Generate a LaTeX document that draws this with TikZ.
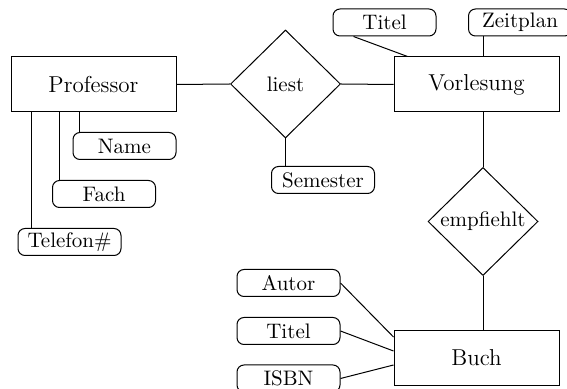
\documentclass[tikz,border=0pt]{standalone}
\usetikzlibrary{shapes.geometric,calc}
\begin{document}
\begin{tikzpicture}[x=0.5pt,y=-0.5pt, line width=0.5pt,
  entity/.style={draw, minimum width=82.5pt, minimum height=27.5pt, inner sep=0pt, font=\fontsize{11.5}{13}\selectfont},
  attr/.style={draw, rounded corners=3.5pt, minimum width=51.5pt, minimum height=13.5pt, inner sep=0pt},
  rel/.style={draw, diamond, aspect=1, minimum width=55pt, minimum height=54pt, inner sep=0pt},
  every node/.style={font=\fontsize{10.5}{12}\selectfont}]
\useasboundingbox (0,0) rectangle (567,389);
\clip (0,0) rectangle (567,389);
\node[entity] (prof) at (93.5,84.5) {Professor};
\node[rel] (liest) at (285.5,84) {liest};
\node[entity] (vorl) at (476.5,84.5) {Vorlesung};
\node[attr] (titelA) at (384.5,22.5) {Titel};
\node[attr] (zeit) at (520,22.5) {Zeitplan};
\node[attr] (sem) at (323,180) {Semester};
\node[attr] (name) at (124.5,146) {Name};
\node[attr] (fach) at (104,194) {Fach};
\node[attr] (tel) at (69.5,242) {Telefon\#};
\node[rel] (empf) at (483,221.5) {empfiehlt};
\node[entity] (buch) at (476.5,358) {Buch};
\node[attr] (autor) at (288.5,283) {Autor};
\node[attr] (titelB) at (288.5,331) {Titel};
\node[attr] (isbn) at (288.5,378.5) {ISBN};
% relationships
\draw (prof.east) -- (liest.west);
\draw (liest.east) -- (vorl.west);
\draw (liest.south) -- (liest.south |- sem.north);
\draw (empf.north) -- (empf.north |- vorl.south);
\draw (empf.south) -- (empf.south |- buch.north);
% Vorlesung attributes
\draw ($(titelA.south west)+(21,0)$) -- ($(vorl.north west)+(14,0)$);
\draw (empf.north |- zeit.south) -- (empf.north |- vorl.north);
% Professor attributes
\coordinate (cn) at ($(name.north west)+(7,0)$);
\coordinate (cf) at ($(fach.north west)+(7,0)$);
\coordinate (ct) at ($(tel.north west)+(13.5,0)$);
\draw (cn) -- (cn |- prof.south);
\draw (cf) -- (cf |- prof.south);
\draw (ct) -- (ct |- prof.south);
% Buch attributes
\draw (autor.east) -- ($(buch.west)+(0,-21)$);
\draw (titelB.east) -- ($(buch.west)+(0,-7)$);
\draw (isbn.east) -- ($(buch.west)+(0,7)$);
\end{tikzpicture}
\end{document}
